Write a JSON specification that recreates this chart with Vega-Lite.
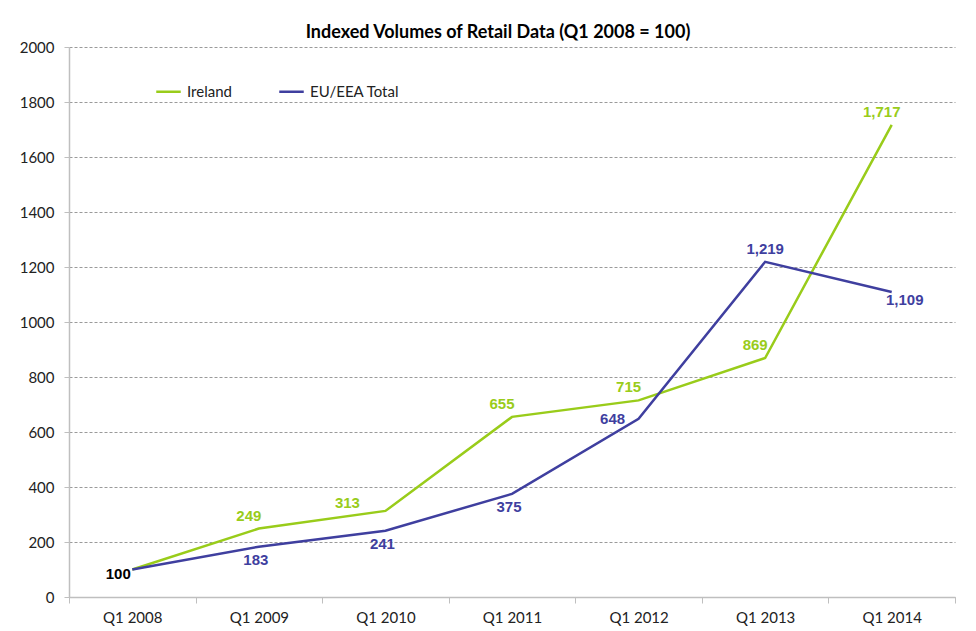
{
  "$schema": "https://vega.github.io/schema/vega-lite/v6.json",
  "width": 886,
  "height": 550,
  "autosize": {"type": "none"},
  "padding": {"left": 69, "top": 47, "right": 21, "bottom": 34},
  "background": "white",
  "title": {"text": "Indexed Volumes of Retail Data (Q1 2008 = 100)", "font": "Lato", "fontSize": 18, "fontWeight": "bold", "color": "#000000", "anchor": "middle", "dx": -14, "offset": -2},
  "config": {"view": {"stroke": null}, "font": "Lato"},
  "data": {"values": [
    {"quarter": "Q1 2008", "series": "Ireland", "value": 100},
    {"quarter": "Q1 2009", "series": "Ireland", "value": 249},
    {"quarter": "Q1 2010", "series": "Ireland", "value": 313},
    {"quarter": "Q1 2011", "series": "Ireland", "value": 655},
    {"quarter": "Q1 2012", "series": "Ireland", "value": 715},
    {"quarter": "Q1 2013", "series": "Ireland", "value": 869},
    {"quarter": "Q1 2014", "series": "Ireland", "value": 1717},
    {"quarter": "Q1 2008", "series": "EU/EEA Total", "value": 100},
    {"quarter": "Q1 2009", "series": "EU/EEA Total", "value": 183},
    {"quarter": "Q1 2010", "series": "EU/EEA Total", "value": 241},
    {"quarter": "Q1 2011", "series": "EU/EEA Total", "value": 375},
    {"quarter": "Q1 2012", "series": "EU/EEA Total", "value": 648},
    {"quarter": "Q1 2013", "series": "EU/EEA Total", "value": 1219},
    {"quarter": "Q1 2014", "series": "EU/EEA Total", "value": 1109}
  ]},
  "encoding": {
    "x": {"field": "quarter", "type": "ordinal", "sort": null,
      "scale": {"paddingInner": 0, "paddingOuter": 0},
      "axis": {"title": null, "labelAngle": 0, "labelFont": "Lato", "labelFontSize": 15, "labelColor": "#222222", "labelPadding": 7,
        "domainColor": "#BFBFBF", "domainWidth": 1.5, "tickColor": "#BFBFBF", "tickBand": "extent", "tickSize": 6, "grid": false}},
    "y": {"field": "value", "type": "quantitative",
      "scale": {"domain": [0, 2000], "nice": false},
      "axis": {"title": null, "values": [0,200,400,600,800,1000,1200,1400,1600,1800,2000], "format": "d", "labelFont": "Lato", "labelFontSize": 15, "labelColor": "#222222", "labelPadding": 10,
        "domainColor": "#BFBFBF", "domainWidth": 1.5, "tickColor": "#BFBFBF", "tickSize": 5,
        "grid": true, "gridColor": "#9A9A9A", "gridDash": [3, 2], "gridWidth": 1}}
  },
  "layer": [
    {
      "mark": {"type": "line", "strokeWidth": 2.5},
      "encoding": {
        "color": {"field": "series", "type": "nominal",
          "scale": {"domain": ["Ireland", "EU/EEA Total"], "range": ["#99CC1A", "#3F3F9F"]},
          "legend": {"title": null, "orient": "none", "legendX": 86, "legendY": 31, "direction": "horizontal",
            "symbolType": "stroke", "symbolSize": 600, "symbolStrokeWidth": 2.5, "labelFont": "Lato", "labelFontSize": 15, "labelColor": "#222222", "columnPadding": 42, "labelOffset": 5}}
      }
    },
    {
      "transform": [{"filter": "datum.series == 'Ireland' && datum.quarter != 'Q1 2008' && datum.quarter != 'Q1 2010'"}],
      "mark": {"type": "text", "font": "Liberation Sans", "fontSize": 15, "fontWeight": "bold", "color": "#99CC1A", "dx": -10, "dy": -13},
      "encoding": {"text": {"field": "value", "type": "quantitative", "format": ",d"}}
    },
    {
      "transform": [{"filter": "datum.series == 'Ireland' && datum.quarter == 'Q1 2010'"}],
      "mark": {"type": "text", "font": "Liberation Sans", "fontSize": 15, "fontWeight": "bold", "color": "#99CC1A", "dx": -38, "dy": -8},
      "encoding": {"text": {"field": "value", "type": "quantitative", "format": ",d"}}
    },
    {
      "transform": [{"filter": "datum.series == 'EU/EEA Total' && indexof(['Q1 2009','Q1 2010','Q1 2011'], datum.quarter) >= 0"}],
      "mark": {"type": "text", "font": "Liberation Sans", "fontSize": 15, "fontWeight": "bold", "color": "#3F3F9F", "dx": -3, "dy": 13},
      "encoding": {"text": {"field": "value", "type": "quantitative", "format": ",d"}}
    },
    {
      "transform": [{"filter": "datum.series == 'EU/EEA Total' && datum.quarter == 'Q1 2012'"}],
      "mark": {"type": "text", "font": "Liberation Sans", "fontSize": 15, "fontWeight": "bold", "color": "#3F3F9F", "dx": -26, "dy": 0},
      "encoding": {"text": {"field": "value", "type": "quantitative", "format": ",d"}}
    },
    {
      "transform": [{"filter": "datum.series == 'EU/EEA Total' && datum.quarter == 'Q1 2013'"}],
      "mark": {"type": "text", "font": "Liberation Sans", "fontSize": 15, "fontWeight": "bold", "color": "#3F3F9F", "dx": 0, "dy": -13},
      "encoding": {"text": {"field": "value", "type": "quantitative", "format": ",d"}}
    },
    {
      "transform": [{"filter": "datum.series == 'EU/EEA Total' && datum.quarter == 'Q1 2014'"}],
      "mark": {"type": "text", "font": "Liberation Sans", "fontSize": 15, "fontWeight": "bold", "color": "#3F3F9F", "dx": 13, "dy": 8},
      "encoding": {"text": {"field": "value", "type": "quantitative", "format": ",d"}}
    },
    {
      "transform": [{"filter": "datum.series == 'EU/EEA Total' && datum.quarter == 'Q1 2008'"}],
      "mark": {"type": "text", "font": "Liberation Sans", "fontSize": 15, "fontWeight": "bold", "color": "#000000", "dx": -14, "dy": 4},
      "encoding": {"text": {"field": "value", "type": "quantitative", "format": ",d"}}
    }
  ]
}
